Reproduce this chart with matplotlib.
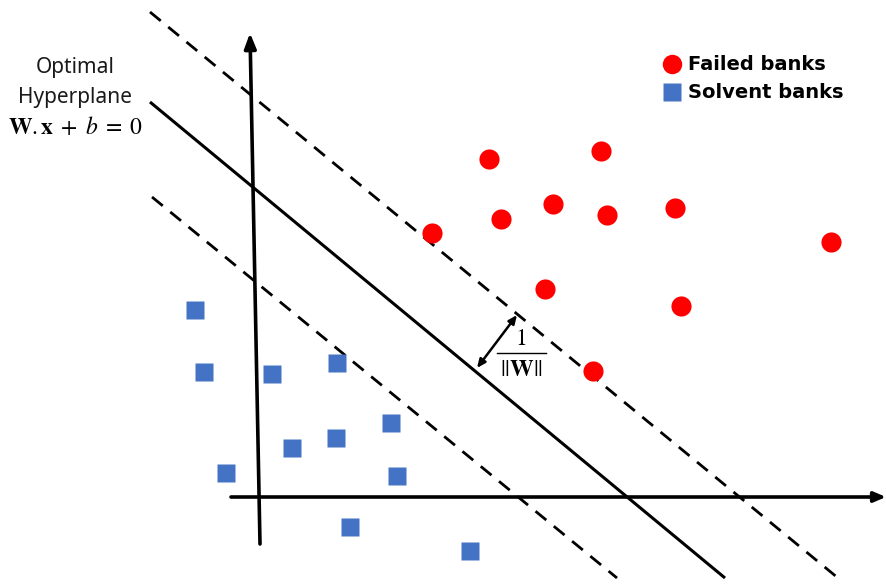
import numpy as np
import matplotlib.pyplot as plt

plt.rcParams['mathtext.fontset'] = 'stix'

# ---------- data (diagram pixel space, y grows downward) ----------
failed_x = [489, 601, 501, 553, 607, 675, 432, 831, 545, 681, 593]
failed_y = [159, 151, 219, 204, 215, 208, 233, 242, 289, 306, 371]

solvent_x = [195, 204, 272, 337, 292, 336, 391, 226, 397, 350, 470]
solvent_y = [310, 372, 374, 363, 448, 438, 423, 473, 476, 527, 551]

hyperplane = [(150, 102), (725, 578)]
margin_up = [(150, 12), (838, 578)]
margin_low = [(152, 197), (617, 578)]

W, H = 886, 585

fig = plt.figure(figsize=(W / 100, H / 100), dpi=100)
ax = fig.add_axes([0, 0, 1, 1])
ax.set_xlim(0, W)
ax.set_ylim(H, 0)
ax.axis('off')

# axes arrows
ax.annotate('', xy=(250, 33), xytext=(260, 544),
            arrowprops=dict(arrowstyle='-|>,head_length=0.9,head_width=0.35',
                            lw=2.6, color='black', shrinkA=0, shrinkB=0))
ax.annotate('', xy=(886, 497), xytext=(231, 497),
            arrowprops=dict(arrowstyle='-|>,head_length=0.7,head_width=0.3',
                            lw=2.6, color='black', shrinkA=0, shrinkB=0))

# hyperplane and margins
(x0, y0), (x1, y1) = hyperplane
ax.plot([x0, x1], [y0, y1], color='black', lw=2.2, solid_capstyle='butt')
for seg in (margin_up, margin_low):
    (x0, y0), (x1, y1) = seg
    ax.plot([x0, x1], [y0, y1], color='black', lw=2.0, ls=(0, (5, 3.5)))

# points
ax.plot(failed_x, failed_y, 'o', color='#FF0000', ms=14.5, mec='none', zorder=3)
ax.plot(solvent_x, solvent_y, 's', color='#4472C4', ms=13, mec='none', zorder=3)

# margin arrow and label (1 / ||W||)
ax.annotate('', xy=(517, 315), xytext=(477, 368),
            arrowprops=dict(arrowstyle='<|-|>,head_length=0.5,head_width=0.22',
                            lw=1.8, color='black', shrinkA=0, shrinkB=0))
ax.text(521, 338, r'$1$', fontsize=17, ha='center', va='center')
ax.plot([497, 546], [353, 353], color='black', lw=1.0)
ax.text(521, 369, r'$||\mathbf{W}||$', fontsize=17, ha='center', va='center')

# hyperplane label
ax.text(75, 68, 'Optimal', fontsize=15, ha='center', va='center',
        family='Noto Sans', color='#1a1a1a')
ax.text(75, 97, 'Hyperplane', fontsize=15, ha='center', va='center',
        family='Noto Sans', color='#1a1a1a')
ax.text(75, 127, r'$\mathbf{W}.\mathbf{x}\;+\;b\;=\;0$', fontsize=17,
        ha='center', va='center')

# legend
ax.plot([672], [64], 'o', color='#FF0000', ms=14, mec='none')
ax.plot([672], [92], 's', color='#4472C4', ms=13, mec='none')
ax.text(688, 64, 'Failed banks', fontsize=14, fontweight='bold',
        ha='left', va='center', family='DejaVu Sans')
ax.text(688, 92, 'Solvent banks', fontsize=14, fontweight='bold',
        ha='left', va='center', family='DejaVu Sans')

fig.savefig('out.png', dpi=100)
